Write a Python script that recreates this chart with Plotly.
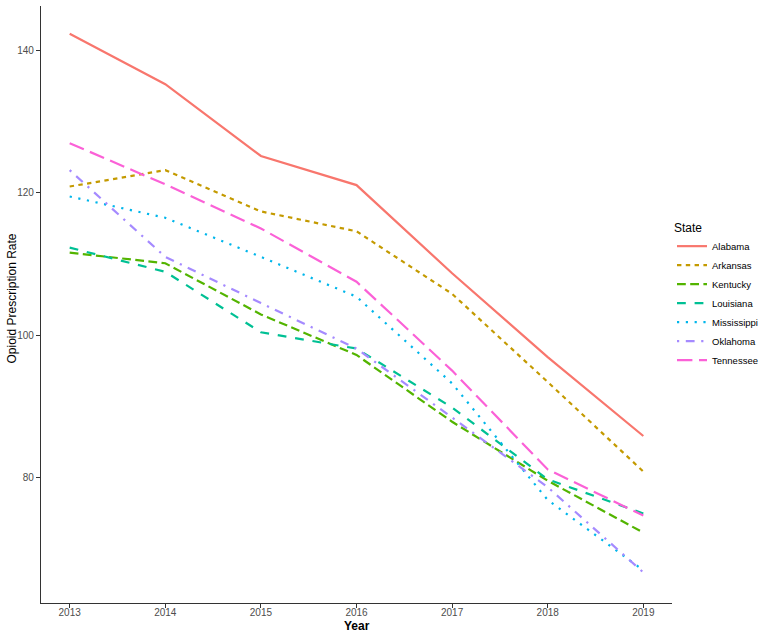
import plotly.graph_objects as go

years = [2013, 2014, 2015, 2016, 2017, 2018, 2019]
states = ["Alabama", "Arkansas", "Kentucky", "Louisiana", "Mississippi", "Oklahoma", "Tennessee"]

alabama = [142.4, 135.3, 125.2, 121.1, 108.7, 96.9, 85.8]
arkansas = [120.9, 123.2, 117.4, 114.6, 105.8, 93.4, 80.8]
kentucky = [111.6, 110.1, 102.9, 97.2, 87.8, 79.5, 72.2]
louisiana = [112.3, 108.9, 100.4, 98.1, 89.8, 79.7, 74.9]
mississippi = [119.5, 116.5, 111.0, 105.4, 93.2, 76.8, 66.9]
oklahoma = [123.2, 111.0, 104.5, 98.1, 88.4, 78.6, 66.6]
tennessee = [127.0, 121.2, 115.0, 107.5, 95.0, 81.1, 74.6]

y_ticks = [80, 100, 120, 140]

series = [alabama, arkansas, kentucky, louisiana, mississippi, oklahoma, tennessee]
colors = ["#F8766D", "#C49A00", "#53B400", "#00C094", "#00B6EB", "#A58AFF", "#FB61D7"]
lw = 2.2
dashes = [
    "solid",
    f"{2*lw}px,{2*lw}px",
    f"{4*lw}px,{2*lw}px",
    f"{4*lw}px,{4*lw}px",
    f"{1*lw}px,{3*lw}px",
    f"{1*lw}px,{3*lw}px,{4*lw}px,{3*lw}px",
    f"{7*lw}px,{3*lw}px",
]

fig = go.Figure()
for name, vals, c, d in zip(states, series, colors, dashes):
    fig.add_trace(go.Scatter(
        x=years, y=vals, mode="lines", name=name,
        line=dict(color=c, width=lw, dash=d),
    ))

FONT = "Liberation Sans, Arial, sans-serif"
axis_common = dict(
    showgrid=False, zeroline=False, showline=True, linecolor="#333333", linewidth=1.3,
    ticks="outside", ticklen=4, tickwidth=1, tickcolor="#333333",
    tickfont=dict(family=FONT, size=10, color="#4D4D4D"),
    mirror=False, automargin=False,
)

fig.update_layout(
    width=764, height=635,
    paper_bgcolor="white", plot_bgcolor="white",
    margin=dict(l=41, r=92, t=6, b=32, autoexpand=False),
    font=dict(family=FONT, color="#000000"),
    xaxis=dict(axis_common, range=[2012.7, 2019.3], tickvals=years,
               ticktext=[str(y) for y in years], ticklabelstandoff=-4),
    yaxis=dict(axis_common, range=[62.3, 146.3], tickvals=y_ticks),
    legend=dict(
        title=dict(text="State", font=dict(size=12)),
        font=dict(size=9.5),
        x=1.0, xanchor="left", y=0.515, yanchor="middle",
        itemwidth=30, tracegroupgap=0, bgcolor="rgba(0,0,0,0)",
    ),
    showlegend=True,
    annotations=[
        dict(text="<b>Year</b>", x=0.5, y=0, xref="paper", yref="paper",
             xanchor="center", yanchor="top", yshift=-14, showarrow=False,
             font=dict(size=12, family=FONT, color="#000000")),
        dict(text="Opioid Prescription Rate", x=0, y=0.51, xref="paper", yref="paper",
             xanchor="center", yanchor="middle", xshift=-29, textangle=-90, showarrow=False,
             font=dict(size=12, family=FONT, color="#000000")),
    ],
)

fig.write_html("out.html", config={"displayModeBar": False},
               post_script="document.body.style.margin='0px';document.body.style.overflow='hidden';")
